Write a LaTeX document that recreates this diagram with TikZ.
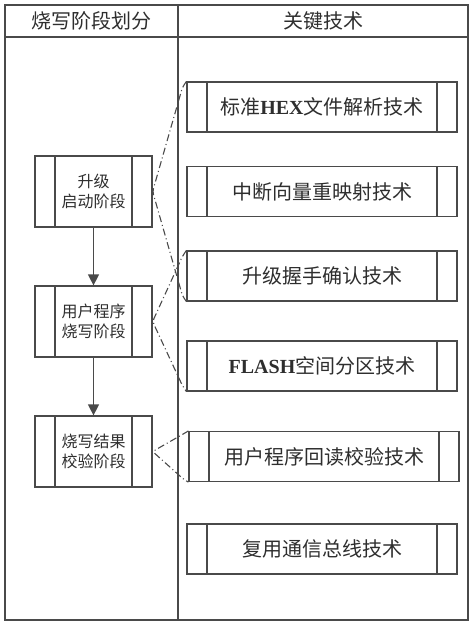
\documentclass[tikz,border=0pt]{standalone}
\usepackage{fontspec}
\setmainfont{Liberation Serif}
\newfontfamily\cjk{Noto Sans CJK SC}
\usetikzlibrary{arrows.meta,calc}
\definecolor{ln}{HTML}{4A4A4A}
\definecolor{tx}{HTML}{2E2E2E}
\tikzset{
  frame/.style={draw=ln,line width=1.2pt},
  sidebars/.style={path picture={
      \draw[ln,line width=1.2pt] ([xshift=#1]path picture bounding box.north west) -- ([xshift=#1]path picture bounding box.south west);
      \draw[ln,line width=1.2pt] ([xshift=-#1]path picture bounding box.north east) -- ([xshift=-#1]path picture bounding box.south east);}},
  stage/.style={draw=ln,line width=1.2pt,minimum width=117pt,minimum height=71pt,inner sep=0pt,
      align=center,text=tx,font=\cjk\fontsize{16}{20}\selectfont,sidebars=20pt},
  tech/.style={draw=ln,line width=1.2pt,minimum width=270pt,minimum height=50pt,inner sep=0pt,
      text=tx,font=\cjk\fontsize{20}{24}\selectfont,sidebars=20pt},
  head/.style={text=tx,font=\cjk\fontsize{20}{24}\selectfont,inner sep=0pt},
  flow/.style={draw=ln,line width=1.2pt,-{Triangle[length=11pt,width=11pt]}},
  brace/.style={draw=ln,line width=1.1pt,dash pattern=on 7pt off 3pt on 1pt off 3pt,rounded corners=3pt},
}
\begin{document}
\begin{tikzpicture}[x=1pt,y=-1pt]
\useasboundingbox (0,0) rectangle (474,626);
% frame
\draw[frame] (5,5) rectangle (468,620);
\draw[frame] (5,37) -- (468,37);
\draw[frame] (178,5) -- (178,620);
\node[head] (h1) at (91.5,21) {烧写阶段划分};
\node[head] (h2) at (323,21) {关键技术};
% stages
\node[stage] (b1) at (93.5,191.5) {升级\\启动阶段};
\node[stage] (b2) at (93.5,321.5) {用户程序\\烧写阶段};
\node[stage] (b3) at (93.5,451.5) {烧写结果\\校验阶段};
\draw[flow] (b1) -- (b2);
\draw[flow] (b2) -- (b3);
% techniques
\node[tech] (r1) at (322,107) {标准{\rmfamily\bfseries HEX}文件解析技术};
\node[tech] (r2) at (322,191.5) {中断向量重映射技术};
\node[tech] (r3) at (322,276) {升级握手确认技术};
\node[tech] (r4) at (322,366) {{\rmfamily\bfseries FLASH}空间分区技术};
\node[tech] (r5) at (324,456.5) {用户程序回读校验技术};
\node[tech] (r6) at (322,549) {复用通信总线技术};
% braces
\draw[brace] (r1.north west) -- ++(-4,6) -- (b1.east) -- ($(r3.south west)+(-4,-6)$) -- (r3.south west);
\draw[brace] (r3.north west) -- ++(-4,6) -- (b2.east) -- ($(r4.south west)+(-4,-6)$) -- (r4.south west);
\draw[brace] (r5.north west) -- ++(-5,3) -- (b3.east) -- ($(r5.south west)+(-5,-3)$) -- (r5.south west);
\end{tikzpicture}
\end{document}
